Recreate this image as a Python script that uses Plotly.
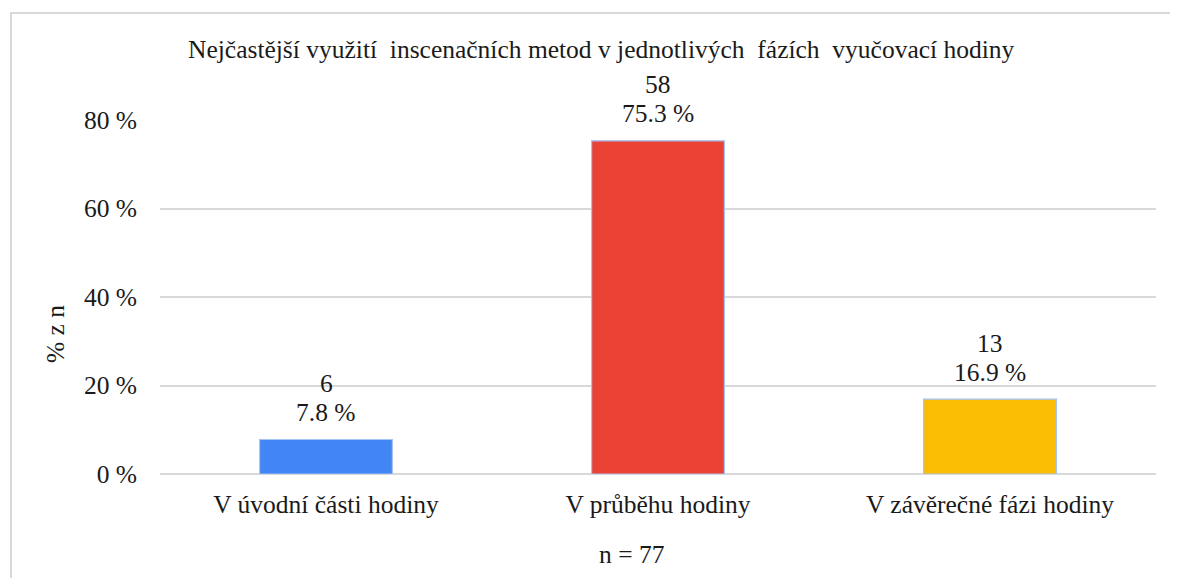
import plotly.graph_objects as go

categories = ["V úvodní části hodiny", "V průběhu hodiny", "V závěrečné fázi hodiny"]
counts = [6, 58, 13]
percents = [7.8, 75.3, 16.9]
colors = ["#4285F4", "#EA4335", "#FBBC04"]
tick_vals = [0, 20, 40, 60, 80]
tick_text = ["0 %", "20 %", "40 %", "60 %", "80 %"]

FONT = "Liberation Serif"
FS = 25.5
TXT = "#1a1a1a"

fig = go.Figure()
fig.add_trace(go.Bar(
    x=categories, y=percents,
    marker=dict(color=colors, line=dict(color="#a4c2f4", width=1.2)),
    width=0.4,
    cliponaxis=False,
    hoverinfo="skip",
))

OFF = 8  # page body margin
W, H = 1170, 570
L, T = 160 - OFF, 120 - OFF
R = W - (1156 - OFF)
B = H - (474 - OFF)
pw, ph = W - L - R, H - T - B

def px_x(x):
    return (x - OFF - L) / pw

def px_y(y):
    return (H - B - (y - OFF)) / ph

annotations = [
    dict(text="Nejčastější využití  inscenačních metod v jednotlivých  fázích  vyučovací hodiny",
         xref="paper", yref="paper", x=px_x(601), y=px_y(50),
         showarrow=False, font=dict(family=FONT, size=FS, color=TXT),
         xanchor="center", yanchor="middle"),
    dict(text="% z n", xref="paper", yref="paper", x=px_x(55), y=px_y(334),
         textangle=-90, showarrow=False,
         font=dict(family=FONT, size=FS, color=TXT),
         xanchor="center", yanchor="middle"),
    dict(text="n = 77", xref="paper", yref="paper", x=px_x(632), y=px_y(554),
         showarrow=False, font=dict(family=FONT, size=FS, color=TXT),
         xanchor="center", yanchor="middle"),
]
for cat, cnt, pct in zip(categories, counts, percents):
    annotations.append(dict(text=f"{pct} %", x=cat, y=pct, xref="x", yref="y",
                            showarrow=False, yshift=27, yanchor="middle",
                            font=dict(family=FONT, size=FS, color=TXT)))
    annotations.append(dict(text=f"{cnt}", x=cat, y=pct, xref="x", yref="y",
                            showarrow=False, yshift=56, yanchor="middle",
                            font=dict(family=FONT, size=FS, color=TXT)))

fig.update_layout(
    width=W, height=H,
    margin=dict(l=L, r=R, t=T, b=B),
    paper_bgcolor="white", plot_bgcolor="white",
    showlegend=False,
    font=dict(family=FONT, size=FS, color=TXT),
    bargap=0.6,
    xaxis=dict(showgrid=False, zeroline=False, showline=False, ticks="",
               ticklabelstandoff=12,
               tickfont=dict(family=FONT, size=FS, color=TXT)),
    yaxis=dict(range=[0, 80], tickvals=tick_vals, ticktext=tick_text,
               showgrid=True, gridcolor="#d9d9d9", gridwidth=1.5,
               zeroline=True, zerolinecolor="#d9d9d9", zerolinewidth=1.5,
               showline=False, ticks="", ticklabelstandoff=22,
               tickfont=dict(family=FONT, size=FS, color=TXT)),
    shapes=[dict(type="rect", xref="paper", yref="paper",
                 x0=px_x(11), x1=px_x(1200), y0=px_y(620), y1=px_y(13),
                 line=dict(color="#d9d9d9", width=2), fillcolor="rgba(0,0,0,0)",
                 layer="below")],
    annotations=annotations,
)

fig.write_html("out.html")
